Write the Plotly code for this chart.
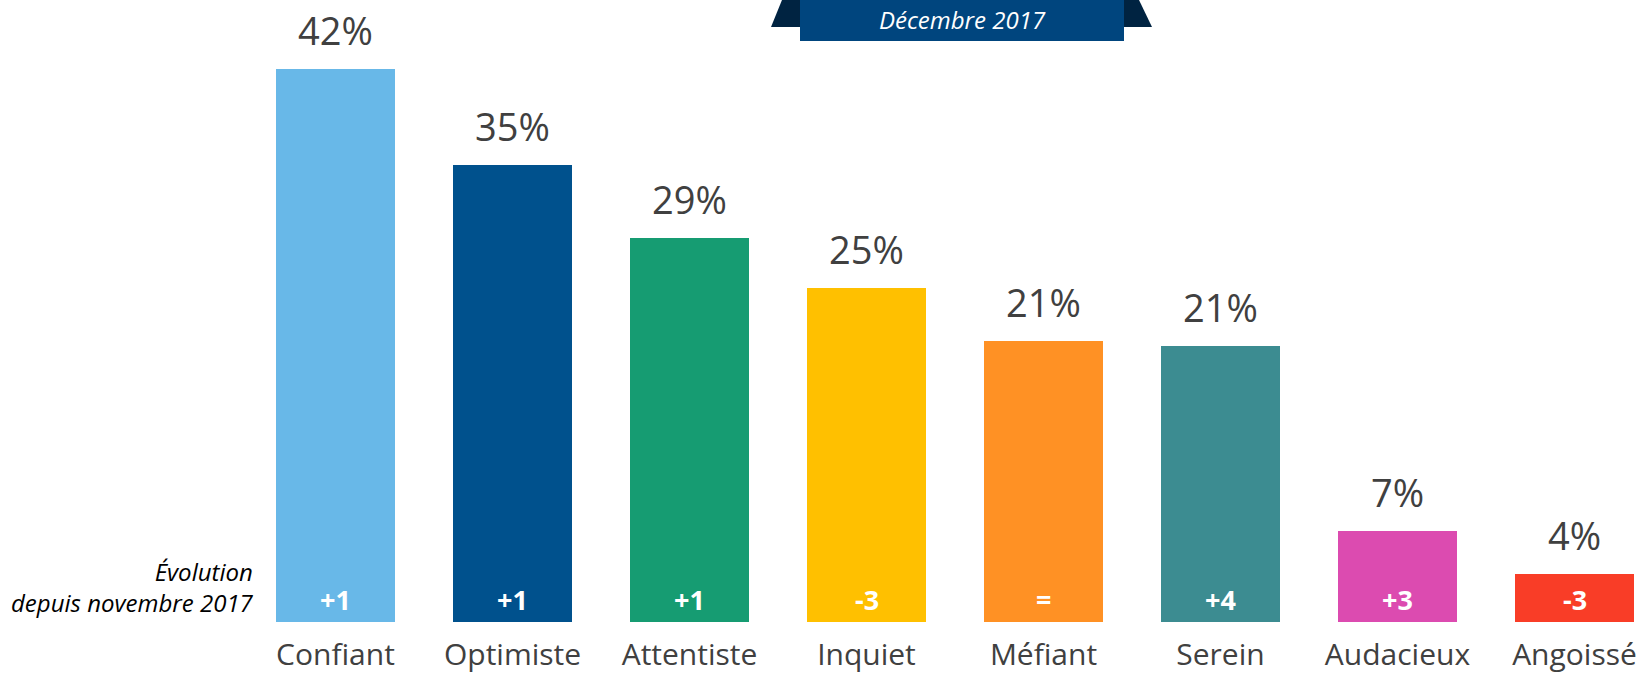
import plotly.graph_objects as go

categories = ["Confiant", "Optimiste", "Attentiste", "Inquiet", "Méfiant", "Serein", "Audacieux", "Angoissé"]
values = [41.9, 34.6, 29.1, 25.3, 21.3, 20.9, 6.9, 3.6]
value_labels = ["42%", "35%", "29%", "25%", "21%", "21%", "7%", "4%"]
evolution = ["+1", "+1", "+1", "-3", "=", "+4", "+3", "-3"]
colors = ["#68B8E8", "#00518D", "#169C72", "#FFC000", "#FF9124", "#3C8C91", "#DC4BB0", "#F93D27"]

W, H = 1644, 677
PLOT_BOTTOM = 622  # px from top
FONT = "Open Sans"

fig = go.Figure()
fig.add_trace(go.Bar(
    x=categories, y=values, marker=dict(color=colors, line=dict(width=0)),
    width=0.672, hoverinfo="skip", showlegend=False,
))

ann = []
for c, v, lab, ev in zip(categories, values, value_labels, evolution):
    ann.append(dict(x=c, y=v, xref="x", yref="y", text=lab, showarrow=False,
                    yanchor="middle", yshift=39,
                    font=dict(family=FONT, size=38, color="#404040")))
    ann.append(dict(x=c, y=0, xref="x", yref="y", text="<b>" + ev + "</b>", showarrow=False,
                    yanchor="middle", yshift=23,
                    font=dict(family=FONT, size=27, color="white")))

def py(ypx):
    return (PLOT_BOTTOM - ypx) / PLOT_BOTTOM

def px(xpx):
    return xpx / W

ann.append(dict(x=px(256), y=py(587), xref="paper", yref="paper", xanchor="right", yanchor="middle",
                align="right", showarrow=False, text="Évolution<br>depuis novembre 2017",
                font=dict(family=FONT, size=24, color="black", style="italic")))
ann.append(dict(x=px(962), y=py(19), xref="paper", yref="paper", xanchor="center", yanchor="middle",
                showarrow=False, text="Décembre 2017",
                font=dict(family=FONT, size=24, color="white", style="italic")))

def path(points):
    return "M " + " L ".join(f"{px(a)},{py(b)}" for a, b in points) + " Z"

shapes = [
    dict(type="path", xref="paper", yref="paper", path=path([(782, 0), (801, 0), (801, 27), (771, 27)]),
         fillcolor="#002341", line=dict(width=0), layer="above"),
    dict(type="path", xref="paper", yref="paper", path=path([(1123, 0), (1139, 0), (1152, 27), (1123, 27)]),
         fillcolor="#002341", line=dict(width=0), layer="above"),
    dict(type="rect", xref="paper", yref="paper", x0=px(800), x1=px(1124), y0=py(41), y1=py(0),
         fillcolor="#00457E", line=dict(width=0), layer="above"),
]

ppu = 177.0
x0px = 335.5
fig.update_layout(
    width=W, height=H,
    margin=dict(l=0, r=0, t=0, b=H - PLOT_BOTTOM, pad=0),
    paper_bgcolor="white", plot_bgcolor="white",
    xaxis=dict(type="category", range=[-x0px / ppu, (W - x0px) / ppu], showgrid=False, zeroline=False,
               showline=False, ticks="", tickfont=dict(family=FONT, size=30, color="#404040"),
               ticklabelstandoff=12, fixedrange=True),
    yaxis=dict(visible=False, range=[0, PLOT_BOTTOM / 13.2], fixedrange=True),
    annotations=ann, shapes=shapes, bargap=0,
)

fig.write_html("out.html", config={"displayModeBar": False, "staticPlot": True},
               post_script="document.body.style.margin='0';document.body.style.overflow='hidden';")
